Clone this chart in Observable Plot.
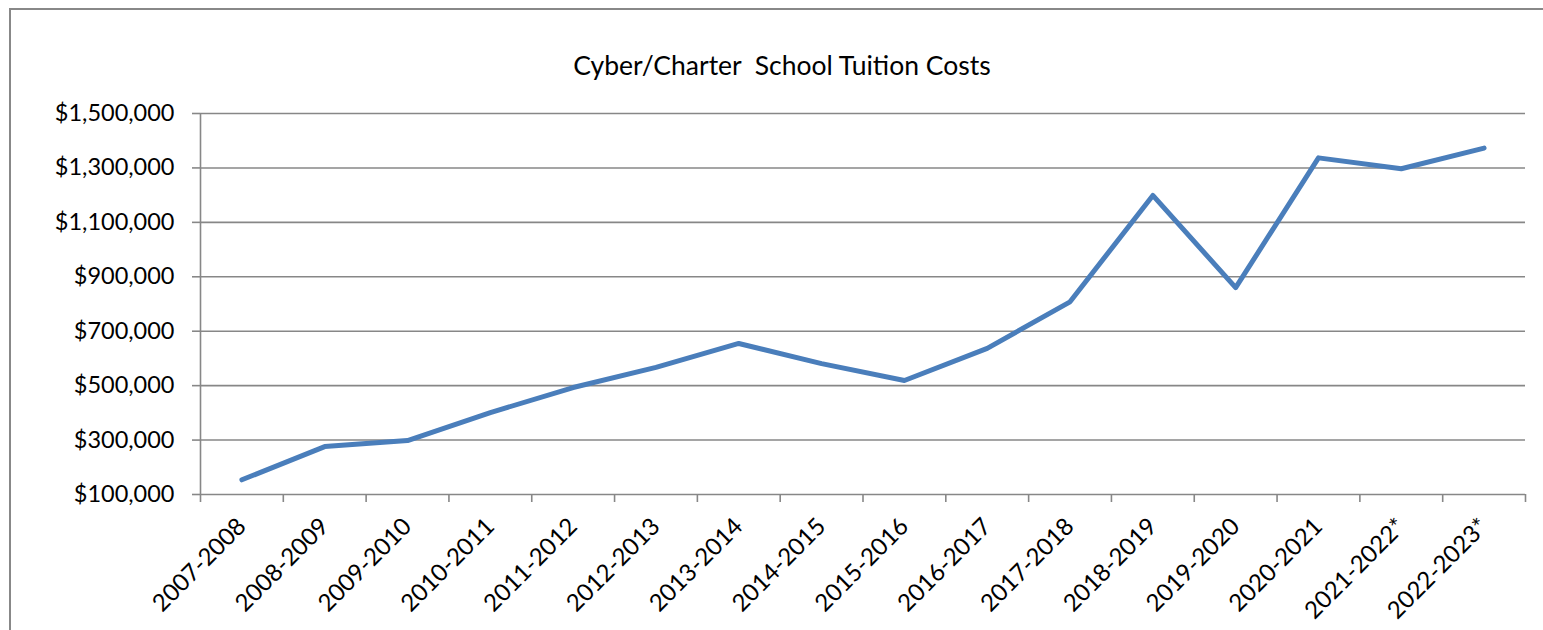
<!DOCTYPE html>
<html>
<head>
<meta charset="utf-8">
<script src="https://cdn.jsdelivr.net/npm/d3@7"></script>
<script src="https://cdn.jsdelivr.net/npm/@observablehq/plot@0.6"></script>
<style>
  html, body { margin: 0; padding: 0; background: #fff; }
  #wrap { position: relative; width: 1543px; height: 630px; overflow: hidden; }
  #frame { position: absolute; left: 9px; top: 8px; width: 1600px; height: 700px;
           border-left: 2px solid #888; border-top: 2px solid #888; }
  #title { position: absolute; left: 0; top: 49px; width: 1564px; text-align: center;
           font-family: Lato, sans-serif; font-size: 26.5px; color: #000; white-space: pre; }
  #chart { position: absolute; left: 0; top: 0; }
</style>
</head>
<body>
<div id="wrap">
  <div id="frame"></div>
  <div id="title">Cyber/Charter  School Tuition Costs</div>
  <div id="chart"></div>
</div>
<script>
const categories = ["2007-2008","2008-2009","2009-2010","2010-2011","2011-2012","2012-2013","2013-2014","2014-2015","2015-2016","2016-2017","2017-2018","2018-2019","2019-2020","2020-2021","2021-2022*","2022-2023*"];
const costs = [154000, 276000, 298000, 401000, 493000, 567000, 655000, 581000, 519000, 637000, 808000, 1199000, 860000, 1337000, 1297000, 1373000];
const yTicks = [100000, 300000, 500000, 700000, 900000, 1100000, 1300000, 1500000];

const data = categories.map((c, i) => ({cat: c, pos: i + 0.5, value: costs[i]}));
const bandEdges = d3.range(0, categories.length + 1);
const grey = "#878787";

const chart = Plot.plot({
  width: 1543,
  height: 630,
  marginLeft: 200,
  marginRight: 18,
  marginTop: 113,
  marginBottom: 136,
  x: {domain: [0, categories.length], axis: null},
  y: {domain: [100000, 1500000], axis: null},
  style: {fontFamily: "Lato, sans-serif", fontSize: "23.5px", color: "#000", background: "transparent"},
  marks: [
    Plot.gridY(yTicks, {stroke: grey, strokeOpacity: 1, strokeWidth: 1.6}),
    Plot.axisY(yTicks, {tickSize: 8, tickFormat: () => "", label: null, stroke: grey, strokeWidth: 1.6}),
    Plot.axisY(yTicks, {tickSize: 0, tickPadding: 26, label: null, tickFormat: d3.format("$,"), fill: "#000"}),
    Plot.ruleX([0], {y1: 100000, y2: 1500000, stroke: grey, strokeWidth: 1.6}),
    Plot.axisX(bandEdges, {tickSize: 8, tickFormat: () => "", label: null, stroke: grey, strokeWidth: 1.6}),
    Plot.axisX(data.map(d => d.pos), {tickSize: 0, tickPadding: 28, tickRotate: -45, label: null,
      fontSize: 24, tickFormat: d => categories[Math.floor(d)], fill: "#000"}),
    Plot.line(data, {x: "pos", y: "value", stroke: "#4a7ebb", strokeWidth: 5,
      strokeLinecap: "round", strokeLinejoin: "round"})
  ]
});
document.getElementById("chart").appendChild(chart);
</script>
</body>
</html>
